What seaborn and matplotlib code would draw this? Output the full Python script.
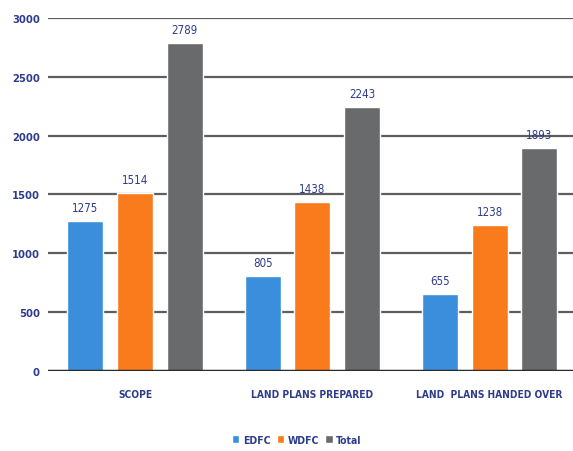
import matplotlib
matplotlib.use("Agg")
import matplotlib.pyplot as plt
import seaborn as sns
import pandas as pd

categories = ["SCOPE", "LAND PLANS PREPARED", "LAND  PLANS HANDED OVER"]
series = ["EDFC", "WDFC", "Total"]
edfc = [1275, 805, 655]
wdfc = [1514, 1438, 1238]
total = [2789, 2243, 1893]
yticks = [0, 500, 1000, 1500, 2000, 2500, 3000]

colors = ["#3B8EDB", "#F97B1C", "#696A6C"]
text_color = "#2E3C8C"

rows = []
for name, vals in zip(series, [edfc, wdfc, total]):
    for cat, v in zip(categories, vals):
        rows.append({"category": cat, "series": name, "value": v})
df = pd.DataFrame(rows)

sns.set_theme(style="white")
plt.rcParams["font.family"] = ["DejaVu Sans"]
plt.rcParams["font.stretch"] = "condensed"

fig = plt.figure(figsize=(5.73, 4.52), dpi=100)
ax = fig.add_axes([0.084, 0.177, 0.916, 0.781])

sns.barplot(data=df, x="category", y="value", hue="series",
            order=categories, hue_order=series, palette=colors,
            width=0.84, gap=0.28, saturation=1, ax=ax, legend=True,
            errorbar=None, zorder=3)

ax.set_ylim(0, 3000)
ax.set_xlim(-0.49, 2.47)
ax.set_yticks(yticks)
ax.set_yticklabels([str(t) for t in yticks], color=text_color,
                   fontsize=8, fontweight="bold", fontstretch="condensed")
ax.tick_params(axis="y", length=0, pad=6)
ax.set_xticks(range(len(categories)))
ax.set_xticklabels(categories, color=text_color, fontsize=7.3,
                   fontweight="bold", fontstretch="condensed")
ax.tick_params(axis="x", length=0, pad=13)
ax.set_xlabel("")
ax.set_ylabel("")

for t in yticks[1:]:
    ax.axhline(t, color="#5E5E5E", lw=1.6, zorder=1)
ax.axhline(0, color="#2A2A2A", lw=2.5, zorder=4)

for s in ax.spines.values():
    s.set_visible(False)

for cont in ax.containers:
    ax.bar_label(cont, fmt="%d", padding=5, fontsize=8.3, color=text_color,
                 fontstretch="condensed")

leg = ax.legend(loc="upper center", bbox_to_anchor=(0.474, -0.155), ncol=3,
                frameon=False, fontsize=7.5, handlelength=0.7,
                handleheight=0.8, handletextpad=0.35, columnspacing=0.6)
for txt in leg.get_texts():
    txt.set_color(text_color)
    txt.set_fontweight("bold")
    txt.set_fontstretch("condensed")

fig.savefig("out.png", dpi=100)
